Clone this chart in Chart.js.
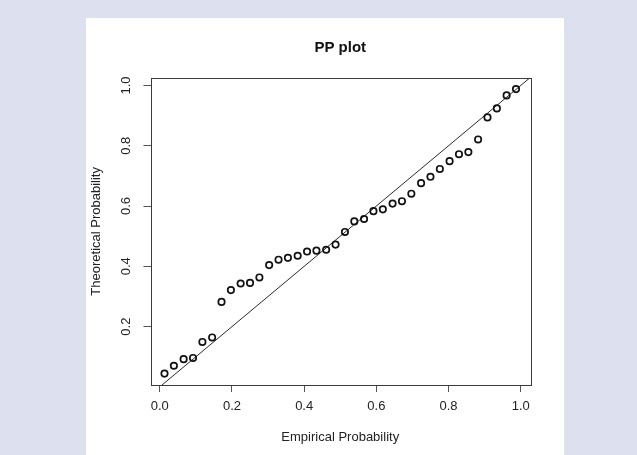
<!DOCTYPE html>
<html>
<head>
<meta charset="utf-8">
<script src="https://cdn.jsdelivr.net/npm/chart.js@4/dist/chart.umd.min.js"></script>
<style>
  html, body { margin: 0; padding: 0; background: #dde0ef; }
  #wrap { position: relative; width: 637px; height: 455px; }
  canvas { display: block; }
</style>
</head>
<body>
<div id="wrap"><canvas id="pp" width="637" height="455"></canvas></div>
<script>
// Empirical (plotting-position) probabilities, 38 observations
const empiricalProb = [
  0.013, 0.039, 0.066, 0.092, 0.118, 0.145, 0.171, 0.197, 0.224, 0.250,
  0.276, 0.303, 0.329, 0.355, 0.382, 0.408, 0.434, 0.461, 0.487, 0.513,
  0.539, 0.566, 0.592, 0.618, 0.645, 0.671, 0.697, 0.724, 0.750, 0.776,
  0.803, 0.829, 0.855, 0.882, 0.908, 0.934, 0.961, 0.987
];
// Fitted-distribution (theoretical) probabilities at the same observations
const theoreticalProb = [
  0.044, 0.070, 0.092, 0.096, 0.149, 0.164, 0.282, 0.321, 0.343, 0.345,
  0.363, 0.404, 0.422, 0.428, 0.435, 0.449, 0.452, 0.455, 0.472, 0.514,
  0.549, 0.557, 0.583, 0.589, 0.608, 0.616, 0.641, 0.676, 0.697, 0.723,
  0.749, 0.772, 0.779, 0.821, 0.894, 0.924, 0.967, 0.988
];
// Reference line y = x
const refLineX = [-0.1, 1.1];
const refLineY = [-0.1, 1.1];

const xTickValues = [0.0, 0.2, 0.4, 0.6, 0.8, 1.0];
const yTickValues = [0.2, 0.4, 0.6, 0.8, 1.0];
const xLimits = [-0.0258, 1.0258];
const yLimits = [0.0062, 1.0258];

const titleText = 'PP plot';
const xTitle = 'Empirical Probability';
const yTitle = 'Theoretical Probability';

const FONT = '"Liberation Sans", Arial, Helvetica, sans-serif';

// White figure panel plus the box around the plotting region
const framePlugin = {
  id: 'frame',
  beforeDraw(chart) {
    const ctx = chart.ctx;
    ctx.save();
    ctx.fillStyle = '#dde0ef';
    ctx.fillRect(0, 0, chart.width, chart.height);
    ctx.fillStyle = '#ffffff';
    ctx.fillRect(86, 18, 478, 437);
    ctx.restore();
  },
  afterDraw(chart) {
    const a = chart.chartArea;
    const ctx = chart.ctx;
    ctx.save();
    ctx.strokeStyle = '#3a3a3a';
    ctx.lineWidth = 1;
    ctx.strokeRect(Math.round(a.left) + 0.5, Math.round(a.top) + 0.5,
                   Math.round(a.right - a.left), Math.round(a.bottom - a.top));
    ctx.restore();
  }
};

const points = empiricalProb.map((x, i) => ({ x, y: theoreticalProb[i] }));
const refLine = refLineX.map((x, i) => ({ x, y: refLineY[i] }));

new Chart(document.getElementById('pp'), {
  type: 'scatter',
  data: {
    datasets: [
      {
        type: 'line',
        data: refLine,
        borderColor: '#2b2b2b',
        borderWidth: 1,
        pointRadius: 0,
        fill: false,
        order: 2
      },
      {
        data: points,
        pointStyle: 'circle',
        pointRadius: 3.2,
        pointBorderWidth: 1.7,
        pointBorderColor: '#111111',
        pointBackgroundColor: 'rgba(0,0,0,0)',
        order: 1
      }
    ]
  },
  options: {
    responsive: false,
    animation: false,
    devicePixelRatio: 1,
    layout: { padding: { left: 86, right: 107, top: 0, bottom: 0 } },
    plugins: {
      legend: { display: false },
      tooltip: { enabled: false },
      title: {
        display: true,
        text: titleText,
        fullSize: false,
        color: '#111111',
        font: { family: FONT, size: 15, weight: 'bold', lineHeight: 1.2 },
        padding: { top: 39.3, bottom: 20.4 }
      }
    },
    scales: {
      x: {
        type: 'linear',
        position: 'bottom',
        min: xLimits[0],
        max: xLimits[1],
        afterBuildTicks: s => { s.ticks = xTickValues.map(v => ({ value: v })); },
        afterFit: s => { s.height = 70; },
        ticks: {
          callback: v => Number(v).toFixed(1),
          color: '#222222',
          font: { family: FONT, size: 13 },
          padding: 7,
          maxRotation: 0,
          minRotation: 0,
          autoSkip: false
        },
        grid: {
          drawOnChartArea: false,
          drawTicks: true,
          tickLength: 7,
          tickColor: '#555555',
          tickWidth: 1
        },
        border: { display: false },
        title: {
          display: true,
          text: xTitle,
          color: '#222222',
          font: { family: FONT, size: 13 },
          padding: { top: 0, bottom: 10 }
        }
      },
      y: {
        type: 'linear',
        position: 'left',
        min: yLimits[0],
        max: yLimits[1],
        afterBuildTicks: s => { s.ticks = yTickValues.map(v => ({ value: v })); },
        afterFit: s => { s.width = 64.5; },
        ticks: {
          callback: v => Number(v).toFixed(1),
          color: '#222222',
          font: { family: FONT, size: 13 },
          padding: 8,
          minRotation: 90,
          maxRotation: 90,
          crossAlign: 'center',
          autoSkip: false
        },
        grid: {
          drawOnChartArea: false,
          drawTicks: true,
          tickLength: 7,
          tickColor: '#555555',
          tickWidth: 1
        },
        border: { display: false },
        title: {
          display: true,
          text: yTitle,
          color: '#222222',
          font: { family: FONT, size: 13 },
          padding: { top: 3, bottom: 0 }
        }
      }
    }
  },
  plugins: [framePlugin]
});
</script>
</body>
</html>
